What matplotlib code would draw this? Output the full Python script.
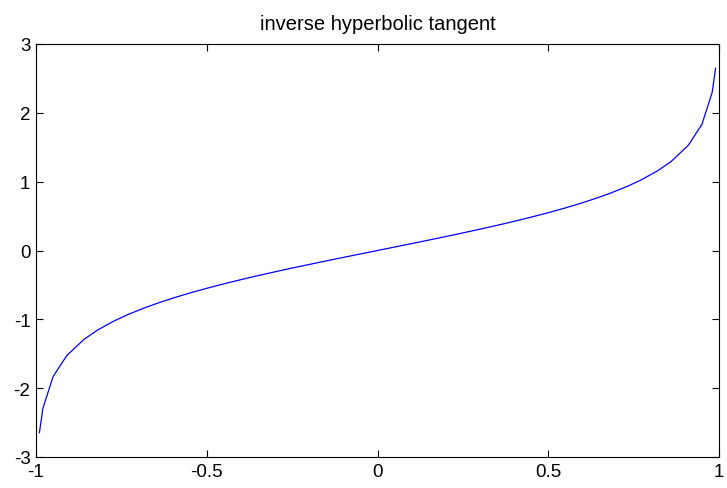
import matplotlib
matplotlib.use("Agg")
import matplotlib.pyplot as plt

plt.rcParams['font.family'] = ['Liberation Sans', 'DejaVu Sans']
plt.rcParams['axes.unicode_minus'] = False

# sample points (positive half) and atanh values
x_pos = [0.0, 0.05, 0.09, 0.14, 0.18, 0.23, 0.27, 0.32, 0.36, 0.41, 0.45, 0.5,
         0.55, 0.59, 0.64, 0.68, 0.73, 0.77, 0.82, 0.86, 0.91, 0.95, 0.98, 0.99]
y_pos = [0.0, 0.05004, 0.09024, 0.14093, 0.18198, 0.23419, 0.27687, 0.33165,
         0.37689, 0.43561, 0.48470, 0.54931, 0.61838, 0.67766, 0.75817, 0.82911,
         0.92873, 1.02033, 1.15682, 1.29334, 1.52752, 1.83178, 2.29756, 2.64665]

x_vals = [-v for v in x_pos[:0:-1]] + x_pos
y_vals = [-v for v in y_pos[:0:-1]] + y_pos

xticks = [-1, -0.5, 0, 0.5, 1]
xtick_labels = ['-1', '-0.5', '0', '0.5', '1']
yticks = [-3, -2, -1, 0, 1, 2, 3]

fig = plt.figure(figsize=(7.27, 4.89), dpi=100)
ax = fig.add_axes([36 / 727, 31 / 489, 683 / 727, 413 / 489])
ax.plot(x_vals, y_vals, color='blue', linewidth=0.9)
ax.set_xlim(-1, 1)
ax.set_ylim(-3, 3)
ax.set_xticks(xticks)
ax.set_xticklabels(xtick_labels)
ax.set_yticks(yticks)
ax.tick_params(direction='in', top=True, right=True, labelsize=13.5, length=5, width=0.8, pad=4)
for s in ax.spines.values():
    s.set_linewidth(0.8)
ax.set_title('inverse hyperbolic tangent', fontsize=14.5, pad=11)

fig.savefig('out.png', dpi=100)
